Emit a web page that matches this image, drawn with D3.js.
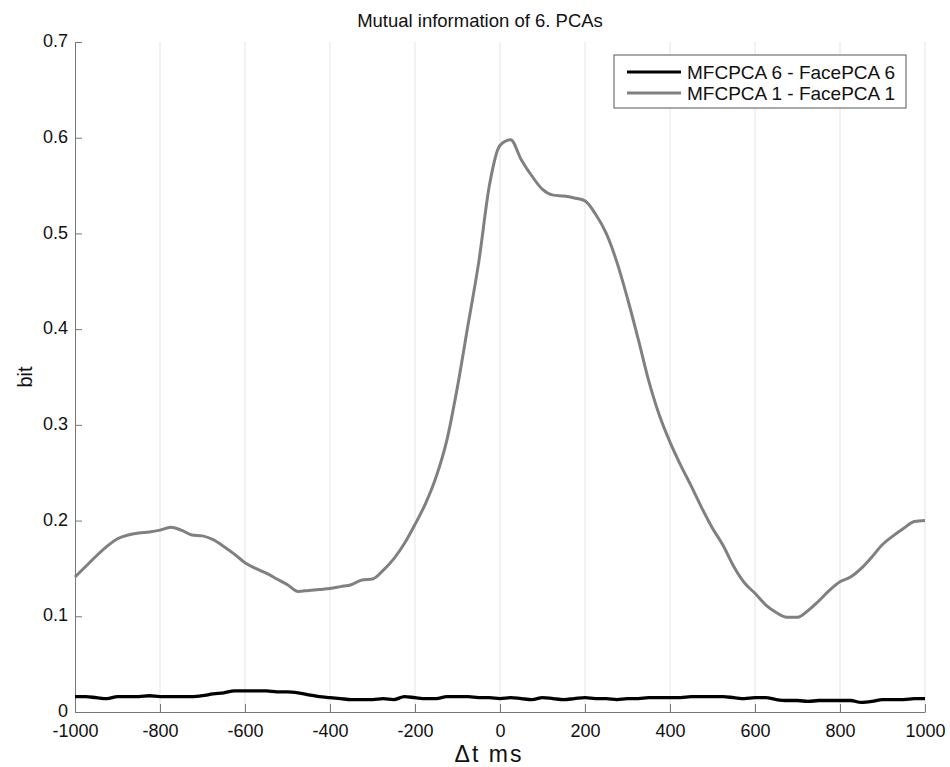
<!DOCTYPE html>
<html>
<head>
<meta charset="utf-8">
<script src="https://cdn.jsdelivr.net/npm/d3@7"></script>
<style>
  body { margin: 0; background: #fff; }
  svg { font-family: "Liberation Sans", Arial, sans-serif; }
</style>
</head>
<body>
<div id="chart"></div>
<script>
// time lags (ms), step 25
var lags = d3.range(-1000, 1001, 25);

// MFCPCA 1 - FacePCA 1 (grey)
var mi1 = [0.141, 0.152, 0.163, 0.173, 0.181, 0.185, 0.187, 0.188, 0.190, 0.193,
           0.190, 0.185, 0.184, 0.180, 0.173, 0.165, 0.156, 0.150, 0.145, 0.139,
           0.133, 0.126, 0.127, 0.128, 0.129, 0.131, 0.133, 0.138, 0.139, 0.148,
           0.160, 0.176, 0.196, 0.218, 0.246, 0.284, 0.340, 0.405, 0.470, 0.550,
           0.592, 0.598, 0.577, 0.560, 0.546, 0.540, 0.539, 0.537, 0.534, 0.520,
           0.500, 0.470, 0.432, 0.390, 0.346, 0.310, 0.282, 0.258, 0.236, 0.213,
           0.192, 0.174, 0.152, 0.135, 0.124, 0.112, 0.104, 0.099, 0.099, 0.106,
           0.116, 0.127, 0.136, 0.141, 0.150, 0.162, 0.175, 0.184, 0.192, 0.199,
           0.200];

// MFCPCA 6 - FacePCA 6 (black)
var mi6 = [0.016, 0.016, 0.015, 0.014, 0.016, 0.016, 0.016, 0.017, 0.016, 0.016,
           0.016, 0.016, 0.017, 0.019, 0.020, 0.022, 0.022, 0.022, 0.022, 0.021,
           0.021, 0.020, 0.018, 0.016, 0.015, 0.014, 0.013, 0.013, 0.013, 0.014,
           0.013, 0.016, 0.015, 0.014, 0.014, 0.016, 0.016, 0.016, 0.015, 0.015,
           0.014, 0.015, 0.014, 0.013, 0.015, 0.014, 0.013, 0.014, 0.015, 0.014,
           0.014, 0.013, 0.014, 0.014, 0.015, 0.015, 0.015, 0.015, 0.016, 0.016,
           0.016, 0.016, 0.015, 0.014, 0.015, 0.015, 0.013, 0.012, 0.012, 0.011,
           0.012, 0.012, 0.012, 0.012, 0.010, 0.011, 0.013, 0.013, 0.013, 0.014,
           0.014];

var xTicks = d3.range(-1000, 1001, 200);
var yTicks = [0, 0.1, 0.2, 0.3, 0.4, 0.5, 0.6, 0.7];

var seriesNames = ["MFCPCA 6 - FacePCA 6", "MFCPCA 1 - FacePCA 1"];
var seriesColors = ["#000000", "#808080"];

var width = 950, height = 767;
var margin = {top: 42, right: 25, bottom: 55, left: 75};
var w = width - margin.left - margin.right;
var h = height - margin.top - margin.bottom;

var x = d3.scaleLinear().domain([-1000, 1000]).range([0, w]);
var y = d3.scaleLinear().domain([0, 0.7]).range([h, 0]);

var svg = d3.select("#chart").append("svg")
    .attr("width", width)
    .attr("height", height);

var g = svg.append("g")
    .attr("transform", "translate(" + margin.left + "," + margin.top + ")");

// vertical grid
g.append("g")
    .selectAll("line")
    .data(xTicks.slice(1))
    .enter().append("line")
      .attr("x1", function(d) { return x(d); })
      .attr("x2", function(d) { return x(d); })
      .attr("y1", 0)
      .attr("y2", h)
      .attr("stroke", "#e4e4e4")
      .attr("stroke-width", 1);

// axes, ticks inward
var xAxis = d3.axisBottom(x)
    .tickValues(xTicks)
    .tickSizeInner(-8)
    .tickSizeOuter(0)
    .tickPadding(12)
    .tickFormat(function(d) { return String(d); }); // plain hyphen, like the original

var yAxis = d3.axisLeft(y)
    .tickValues(yTicks)
    .tickSizeInner(-7)
    .tickSizeOuter(0)
    .tickPadding(7)
    .tickFormat(function(d) { return d === 0 ? "0" : d3.format(".1f")(d); });

var gx = g.append("g")
    .attr("transform", "translate(0," + h + ")")
    .call(xAxis);

var gy = g.append("g").call(yAxis);

[gx, gy].forEach(function(a) {
  a.select(".domain").attr("stroke", "#777");
  a.selectAll(".tick line").attr("stroke", "#777");
  a.selectAll(".tick text")
    .attr("fill", "#111")
    .style("font-size", "18px")
    .style("font-family", "'Liberation Sans', Arial, sans-serif");
});
// a bit higher so "0" clears "-1000"
gy.selectAll(".tick text").attr("dy", "0.26em");

// lines
var line = d3.line()
    .x(function(d, i) { return x(lags[i]); })
    .y(function(d) { return y(d); })
    .curve(d3.curveMonotoneX);

g.append("path")
    .datum(mi6)
    .attr("fill", "none")
    .attr("stroke", seriesColors[0])
    .attr("stroke-width", 3.3)
    .attr("d", line);

g.append("path")
    .datum(mi1)
    .attr("fill", "none")
    .attr("stroke", seriesColors[1])
    .attr("stroke-width", 3)
    .attr("d", line);

// title and labels
svg.append("text")
    .attr("x", 480)
    .attr("y", 27)
    .attr("text-anchor", "middle")
    .style("font-size", "18.5px")
    .attr("fill", "#111")
    .text("Mutual information of 6. PCAs");

svg.append("text")
    .attr("x", 489)
    .attr("y", 762)
    .attr("text-anchor", "middle")
    .style("font-size", "23px")
    .style("letter-spacing", "2px")
    .attr("fill", "#111")
    .text("\u0394t ms");

svg.append("text")
    .attr("transform", "translate(" + 32 + "," + (margin.top + h / 2) + ") rotate(-90)")
    .attr("text-anchor", "middle")
    .style("font-size", "20px")
    .attr("fill", "#111")
    .text("bit");

// legend
var leg = svg.append("g").attr("transform", "translate(614,55)");
leg.append("rect")
    .attr("width", 292)
    .attr("height", 53)
    .attr("fill", "#fff")
    .attr("stroke", "#555")
    .attr("stroke-width", 1);

var items = leg.selectAll("g.item")
    .data(seriesNames)
    .enter().append("g")
      .attr("class", "item")
      .attr("transform", function(d, i) { return "translate(0," + (17 + i * 21) + ")"; });

items.append("line")
    .attr("x1", 13).attr("x2", 67)
    .attr("stroke", function(d, i) { return seriesColors[i]; })
    .attr("stroke-width", 3);

items.append("text")
    .attr("x", 73)
    .attr("dy", "0.36em")
    .style("font-size", "19px")
    .attr("fill", "#111")
    .text(function(d) { return d; });
</script>
</body>
</html>
